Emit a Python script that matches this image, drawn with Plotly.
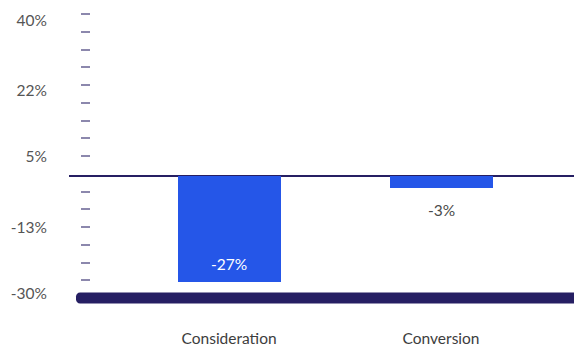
import plotly.graph_objects as go

# Funnel-stage change, in percent
categories = ["Consideration", "Conversion"]
values = [-27, -3]

# Y-axis labels
y_tick_values = [40, 22, 5, -13, -30]
y_tick_text = ["40%", "22%", "5%", "-13%", "-30%"]

BLUE = "#2556e8"
NAVY = "#261f63"
FONT = "Lato, sans-serif"

W, H = 574, 349
L, R, T, B = 69, 0, 5, 26
plot_w = W - L - R

fig = go.Figure()

fig.add_trace(go.Bar(
    x=list(range(len(categories))),
    y=values,
    width=0.486,
    marker=dict(color=BLUE, line=dict(width=0)),
    hoverinfo="skip",
    showlegend=False,
))

# value labels: inside the long bar (white), below the short one (grey)
for i, v in enumerate(values):
    inside = abs(v) > 10
    fig.add_annotation(
        x=i, y=v, xref="x", yref="y",
        text=f"{v}%",
        showarrow=False,
        yanchor="middle",
        yshift=18 if inside else -22,
        font=dict(family=FONT, size=15.5, color="#ffffff" if inside else "#4a4a4a"),
    )

# decorative dash scale along the left edge (secondary axis, -30..40 in 16 steps)
dash_step = 70 / 16
dash_vals = [40 - dash_step * k for k in range(16) if k != 9]

# thick rounded baseline at the bottom of the dash scale
xl = (76 - L) / plot_w
r_px = 4.0
r = r_px / plot_w
h = 5.5
k = 0.5523
path = (
    f"M {xl + r},{h} L 1,{h} L 1,{-h} L {xl + r},{-h} "
    f"C {xl + r - k * r},{-h} {xl},{-h + k * r_px} {xl},{-h + r_px} "
    f"L {xl},{h - r_px} "
    f"C {xl},{h - r_px + k * r_px} {xl + r - k * r},{h} {xl + r},{h} Z"
)
fig.add_shape(
    type="path", path=path,
    xref="paper", yref="y2",
    ysizemode="pixel", yanchor=-30,
    fillcolor=NAVY, line=dict(width=0),
    layer="above",
)

fig.update_layout(
    width=W, height=H,
    margin=dict(l=L, r=R, t=T, b=B, autoexpand=False),
    paper_bgcolor="white",
    plot_bgcolor="white",
    bargap=0,
    font=dict(family=FONT, size=15.5, color="#444444"),
    xaxis=dict(
        range=[-0.755, 1.627],
        tickvals=list(range(len(categories))),
        ticktext=categories,
        showgrid=False, zeroline=False, showline=False,
        ticks="outside", ticklen=1, tickcolor="rgba(0,0,0,0)",
        tickfont=dict(family=FONT, size=15.5, color="#3d3d3d"),
        automargin=False,
        fixedrange=True,
    ),
    yaxis=dict(
        range=[-37.47, 43.86],
        tickvals=y_tick_values,
        ticktext=y_tick_text,
        showgrid=False,
        zeroline=True, zerolinecolor=NAVY, zerolinewidth=1.5,
        showline=False,
        ticks="outside", ticklen=18, tickcolor="rgba(0,0,0,0)",
        tickfont=dict(family=FONT, size=15.5, color="#555555"),
        automargin=False,
        fixedrange=True,
    ),
    yaxis2=dict(
        overlaying="y",
        anchor="free",
        position=(90 - L) / plot_w,
        side="left",
        range=[-36.16, 42.218],
        tickvals=dash_vals,
        showticklabels=False,
        ticks="outside", ticklen=9, tickwidth=2, tickcolor="#8c88ad",
        showgrid=False, zeroline=False, showline=False,
        automargin=False,
        fixedrange=True,
    ),
)

fig.write_html("out.html")
